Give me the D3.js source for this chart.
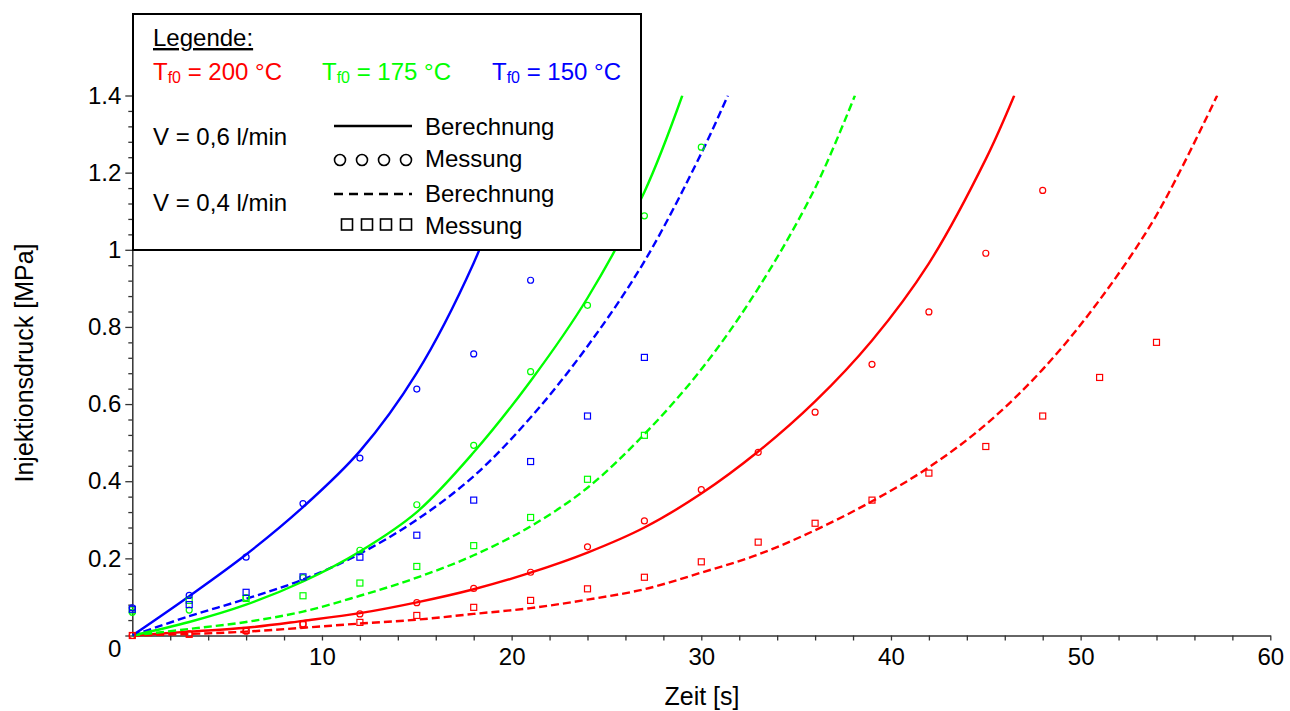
<!DOCTYPE html>
<html><head><meta charset="utf-8">
<script src="https://cdn.jsdelivr.net/npm/d3@7"></script>
<style>
html,body{margin:0;padding:0;background:#fff;}
svg{display:block;font-family:"Liberation Sans",Arial,sans-serif;}
</style></head>
<body><svg id="chart" width="1290" height="711"></svg>
<script>
// ---------- data ----------
// calculated curves (Berechnung): time [s] and pressure [MPa]
const calcT_blue06  = [0,3,6,9,12,15,18,20,21.2];
const calc_blue06   = [0,0.102,0.21,0.333,0.478,0.681,0.966,1.22,1.4];
const calcT_green06 = [0,3,6,9,12,15,18,21,24,27,29];
const calc_green06  = [0,0.035,0.08,0.14,0.218,0.32,0.475,0.66,0.875,1.15,1.4];
const calcT_blue04  = [0,3,6,9,12,15,18,21,24,27,30,31.4];
const calc_blue04   = [0,0.05,0.095,0.145,0.212,0.30,0.413,0.565,0.75,0.97,1.25,1.4];
const calcT_green04 = [0,3,6,9,12,15,18,21,24,27,30,33,36,38.1];
const calc_green04  = [0,0.017,0.035,0.062,0.103,0.15,0.208,0.283,0.383,0.522,0.69,0.9,1.16,1.4];
const calcT_red06   = [0,3,6,9,12,15,18,21,24,27,30,33,36,39,42,45,46.5];
const calc_red06    = [0,0.01,0.02,0.038,0.058,0.086,0.12,0.163,0.215,0.28,0.368,0.477,0.607,0.765,0.965,1.235,1.4];
const calcT_red04   = [0,3,6,9,12,15,18,21,24,27,30,33,36,39,42,45,48,51,54,57.2];
const calc_red04    = [0,0.004,0.01,0.02,0.031,0.041,0.056,0.071,0.093,0.12,0.163,0.21,0.273,0.348,0.436,0.547,0.69,0.87,1.09,1.4];

// measurements (Messung), every 3 s from t = 0
const measT        = [0,3,6,9,12,15,18,21,24,27,30,33,36,39,42,45,48,51,54];
const meas_blue06  = [0.072,0.104,0.203,0.342,0.460,0.639,0.730,0.921];
const meas_blue04  = [0.068,0.080,0.112,0.152,0.203,0.260,0.351,0.451,0.569,0.721];
const meas_green06 = [0.060,0.066,0.098,0.150,0.221,0.339,0.493,0.684,0.856,1.088,1.266];
const meas_green04 = [0.066,0.091,0.096,0.103,0.136,0.179,0.233,0.306,0.405,0.519];
const meas_red06   = [0.0,0.004,0.011,0.030,0.056,0.085,0.122,0.164,0.230,0.297,0.378,0.475,0.579,0.703,0.839,0.991,1.154];
const meas_red04   = [0.0,0.003,0.013,0.028,0.034,0.052,0.073,0.091,0.121,0.151,0.191,0.242,0.291,0.351,0.421,0.490,0.569,0.669,0.760];

const xTicks = [10,20,30,40,50,60];
const yTicks = [0,0.2,0.4,0.6,0.8,1,1.2,1.4];
const xLabel = "Zeit [s]";
const yLabel = "Injektionsdruck [MPa]";

const colRed = "#ff0000", colGreen = "#00ff00", colBlue = "#0000ff";

// ---------- chart ----------
const svg = d3.select("#chart");
const x = d3.scaleLinear().domain([0,60]).range([132.3,1270.3]);
const y = d3.scaleLinear().domain([0,1.4]).range([635.5,95.5]);

svg.append("defs").append("clipPath").attr("id","clip")
  .append("rect").attr("x",x(0)).attr("y",y(1.4)).attr("width",x(60)-x(0)+2).attr("height",y(0)-y(1.4)+2);

// axes
const gx = svg.append("g").attr("transform",`translate(0,${y(0)})`)
  .call(d3.axisBottom(x).tickValues(xTicks).tickSize(5).tickPadding(7.5).tickSizeOuter(0).tickFormat(d3.format("d")));
const gxm = svg.append("g").attr("transform",`translate(0,${y(0)})`)
  .call(d3.axisBottom(x).tickValues(d3.range(2,60,2).filter(v=>v%10!==0)).tickSize(5).tickSizeOuter(0).tickFormat(""));
gxm.select(".domain").remove();

const gy = svg.append("g").attr("transform",`translate(${x(0)},0)`)
  .call(d3.axisLeft(y).tickValues(yTicks).tickSize(7).tickPadding(4).tickSizeOuter(0).tickFormat(d=> d===0?"0":(d===1?"1":d3.format(".1f")(d))));
const gym = svg.append("g").attr("transform",`translate(${x(0)},0)`)
  .call(d3.axisLeft(y).tickValues(d3.range(0.04,1.4,0.04).filter(v=>Math.abs(v/0.2-Math.round(v/0.2))>0.01)).tickSize(4).tickSizeOuter(0).tickFormat(""));
gym.select(".domain").remove();

[gx,gxm,gy,gym].forEach(g=>{
  g.selectAll("path,line").attr("stroke","#333").attr("stroke-width",1.3);
  g.selectAll("text").attr("font-size",24).attr("fill","#000")
   .attr("font-family",'"Liberation Sans",Arial,sans-serif');
});
gy.select(".domain").attr("stroke-width",1.5);
gx.select(".domain").attr("stroke-width",1.5);
// zero label of the y axis sits below the origin
gy.selectAll(".tick").filter(d=>d===0).select("text").attr("y",13);

// axis titles
svg.append("text").attr("x",702).attr("y",705).attr("text-anchor","middle")
  .attr("font-size",25).text(xLabel);
svg.append("text").attr("transform","translate(33,363) rotate(-90)").attr("text-anchor","middle")
  .attr("font-size",25).text(yLabel);

// curves
const plot = svg.append("g").attr("clip-path","url(#clip)");
const line = d3.line().x(d=>x(d[0])).y(d=>y(d[1])).curve(d3.curveCatmullRom.alpha(0.5));
const curves = [
  {t:calcT_red04,v:calc_red04,c:colRed,dash:true},
  {t:calcT_red06,v:calc_red06,c:colRed,dash:false},
  {t:calcT_green04,v:calc_green04,c:colGreen,dash:true},
  {t:calcT_blue04,v:calc_blue04,c:colBlue,dash:true},
  {t:calcT_green06,v:calc_green06,c:colGreen,dash:false},
  {t:calcT_blue06,v:calc_blue06,c:colBlue,dash:false},
];
curves.forEach(s=>{
  plot.append("path").datum(s.t.map((t,i)=>[t,s.v[i]]))
    .attr("d",line).attr("fill","none").attr("stroke",s.c)
    .attr("stroke-width",2.4)
    .attr("stroke-dasharray",s.dash?"8,4":null);
});

// measurements
const meas = [
  {v:meas_red06,c:colRed,sq:false},{v:meas_red04,c:colRed,sq:true},
  {v:meas_green06,c:colGreen,sq:false},{v:meas_green04,c:colGreen,sq:true},
  {v:meas_blue06,c:colBlue,sq:false},{v:meas_blue04,c:colBlue,sq:true},
];
meas.forEach(s=>{
  const pts = s.v.map((v,i)=>[measT[i],v]);
  if(s.sq){
    svg.append("g").selectAll("rect").data(pts).join("rect")
      .attr("x",d=>x(d[0])-3).attr("y",d=>y(d[1])-3).attr("width",6).attr("height",6)
      .attr("fill","none").attr("stroke",s.c).attr("stroke-width",1.2);
  } else {
    svg.append("g").selectAll("circle").data(pts).join("circle")
      .attr("cx",d=>x(d[0])).attr("cy",d=>y(d[1])).attr("r",3)
      .attr("fill","none").attr("stroke",s.c).attr("stroke-width",1.2);
  }
});

// legend
const fs = 24;
const lg = svg.append("g");
lg.append("rect").attr("x",133).attr("y",14).attr("width",508).attr("height",236)
  .attr("fill","#fff").attr("stroke","#000").attr("stroke-width",2);
lg.append("text").attr("x",153).attr("y",46).attr("font-size",fs).attr("text-decoration","underline").text("Legende:");
const temps = [{x:153,c:colRed,t:"200"},{x:322,c:colGreen,t:"175"},{x:492,c:colBlue,t:"150"}];
temps.forEach(d=>{
  const t = lg.append("text").attr("x",d.x).attr("y",80).attr("font-size",fs).attr("fill",d.c);
  t.append("tspan").text("T");
  t.append("tspan").attr("font-size",16).attr("dy",3).text("f0");
  t.append("tspan").attr("dy",-3).text(` = ${d.t} °C`);
});
lg.append("text").attr("x",153).attr("y",145).attr("font-size",fs).text("V = 0,6 l/min");
lg.append("text").attr("x",153).attr("y",211).attr("font-size",fs).text("V = 0,4 l/min");
lg.append("line").attr("x1",334).attr("x2",412).attr("y1",126).attr("y2",126).attr("stroke","#000").attr("stroke-width",2.4);
lg.append("line").attr("x1",334).attr("x2",412).attr("y1",194).attr("y2",194).attr("stroke","#000").attr("stroke-width",2.4).attr("stroke-dasharray","9,6");
lg.selectAll("circle.lg").data([340,362,384,406]).join("circle").attr("class","lg")
  .attr("cx",d=>d).attr("cy",160).attr("r",5.5).attr("fill","none").attr("stroke","#000").attr("stroke-width",1.6);
lg.selectAll("rect.lg").data([347,367,386,406]).join("rect").attr("class","lg")
  .attr("x",d=>d-5.5).attr("y",219).attr("width",11).attr("height",11).attr("fill","none").attr("stroke","#000").attr("stroke-width",1.6);
lg.append("text").attr("x",425).attr("y",135).attr("font-size",fs).text("Berechnung");
lg.append("text").attr("x",425).attr("y",167).attr("font-size",fs).text("Messung");
lg.append("text").attr("x",425).attr("y",202).attr("font-size",fs).text("Berechnung");
lg.append("text").attr("x",425).attr("y",234).attr("font-size",fs).text("Messung");
</script>
</body></html>
